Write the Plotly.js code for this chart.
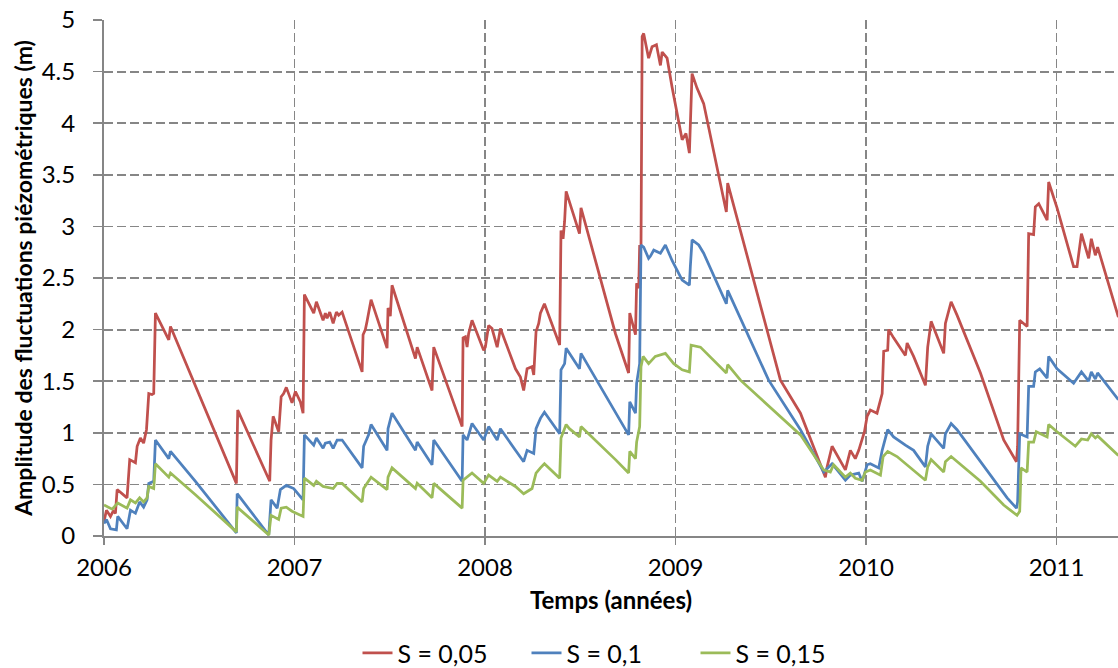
<!DOCTYPE html>
<html>
<head>
<meta charset="utf-8">
<script src="https://cdn.plot.ly/plotly-3.0.1.min.js"></script>
<style>html,body{margin:0;padding:0;background:#fff;}#chart{width:1118px;height:668px;}</style>
</head>
<body>
<div id="chart"></div>
<script>
// Decimal years and amplitudes (m)
const yearsS005 = [2006.000,2006.013,2006.034,2006.048,2006.060,2006.069,2006.121,2006.135,2006.165,2006.174,2006.191,2006.208,2006.223,2006.235,2006.252,2006.261,2006.270,2006.340,2006.349,2006.480,2006.695,2006.702,2006.870,2006.877,2006.888,2006.917,2006.930,2006.943,2006.957,2006.987,2007.005,2007.031,2007.045,2007.052,2007.101,2007.115,2007.150,2007.162,2007.171,2007.185,2007.203,2007.220,2007.232,2007.250,2007.355,2007.360,2007.372,2007.381,2007.389,2007.402,2007.486,2007.491,2007.503,2007.512,2007.635,2007.644,2007.722,2007.731,2007.880,2007.885,2007.897,2007.906,2007.914,2007.932,2007.993,2008.002,2008.019,2008.037,2008.064,2008.081,2008.160,2008.186,2008.203,2008.221,2008.247,2008.256,2008.268,2008.282,2008.291,2008.312,2008.392,2008.399,2008.410,2008.418,2008.426,2008.443,2008.496,2008.504,2008.685,2008.754,2008.760,2008.790,2008.796,2008.807,2008.812,2008.819,2008.825,2008.833,2008.859,2008.877,2008.900,2008.921,2008.930,2008.956,2008.982,2009.035,2009.055,2009.073,2009.078,2009.087,2009.113,2009.148,2009.267,2009.274,2009.551,2009.656,2009.787,2009.796,2009.822,2009.892,2009.918,2009.944,2009.962,2009.992,2010.006,2010.023,2010.058,2010.085,2010.093,2010.114,2010.119,2010.145,2010.207,2010.216,2010.250,2010.312,2010.324,2010.342,2010.408,2010.417,2010.447,2010.478,2010.601,2010.706,2010.723,2010.790,2010.796,2010.807,2010.846,2010.854,2010.880,2010.889,2010.907,2010.951,2010.959,2011.003,2011.090,2011.108,2011.131,2011.169,2011.183,2011.204,2011.216,2011.325];
const ampS005 = [0.14,0.25,0.19,0.24,0.22,0.45,0.37,0.74,0.71,0.87,0.95,0.90,1.03,1.38,1.37,1.38,2.16,1.90,2.03,1.46,0.51,1.22,0.53,0.93,1.16,1.01,1.35,1.38,1.44,1.29,1.40,1.30,1.19,2.34,2.16,2.27,2.09,2.16,2.11,2.17,2.06,2.17,2.14,2.17,1.59,1.95,2.00,2.08,2.17,2.29,1.82,2.21,2.13,2.43,1.72,1.83,1.41,1.83,1.06,1.92,1.93,1.83,1.96,2.09,1.80,1.83,2.04,2.01,1.83,2.01,1.62,1.54,1.41,1.62,1.64,1.56,1.98,2.06,2.16,2.25,1.85,2.96,2.88,3.05,3.34,3.24,2.93,3.18,1.96,1.58,2.16,1.95,2.45,2.40,2.82,2.80,4.84,4.87,4.63,4.74,4.76,4.56,4.69,4.63,4.35,3.84,3.90,3.71,4.03,4.48,4.34,4.19,3.14,3.42,1.51,1.19,0.57,0.67,0.87,0.64,0.83,0.75,0.83,1.01,1.16,1.22,1.19,1.38,1.79,1.80,2.00,1.92,1.75,1.87,1.74,1.46,1.83,2.08,1.77,2.06,2.27,2.14,1.58,1.03,0.93,0.72,0.87,2.09,2.03,2.93,2.92,3.19,3.22,3.06,3.43,3.18,2.61,2.61,2.93,2.69,2.88,2.72,2.80,2.12];

const yearsS01 = [2006.000,2006.013,2006.034,2006.065,2006.072,2006.121,2006.139,2006.165,2006.187,2006.208,2006.226,2006.235,2006.261,2006.270,2006.340,2006.349,2006.480,2006.695,2006.699,2006.865,2006.877,2006.909,2006.926,2006.957,2006.996,2007.031,2007.045,2007.052,2007.101,2007.115,2007.150,2007.162,2007.185,2007.203,2007.224,2007.250,2007.355,2007.363,2007.377,2007.389,2007.402,2007.486,2007.491,2007.512,2007.635,2007.644,2007.722,2007.731,2007.880,2007.885,2007.906,2007.932,2007.993,2008.019,2008.064,2008.081,2008.160,2008.203,2008.221,2008.256,2008.268,2008.291,2008.312,2008.392,2008.399,2008.418,2008.426,2008.443,2008.496,2008.504,2008.685,2008.754,2008.760,2008.790,2008.796,2008.812,2008.819,2008.833,2008.859,2008.868,2008.886,2008.921,2008.947,2008.982,2009.035,2009.073,2009.078,2009.087,2009.122,2009.148,2009.267,2009.274,2009.489,2009.656,2009.778,2009.822,2009.892,2009.918,2009.962,2009.980,2010.006,2010.023,2010.067,2010.085,2010.114,2010.145,2010.207,2010.250,2010.312,2010.324,2010.342,2010.408,2010.417,2010.447,2010.478,2010.601,2010.741,2010.790,2010.796,2010.807,2010.846,2010.854,2010.880,2010.889,2010.912,2010.951,2010.959,2011.003,2011.090,2011.131,2011.169,2011.183,2011.204,2011.216,2011.325];
const ampS01 = [0.12,0.16,0.07,0.06,0.19,0.07,0.25,0.22,0.33,0.28,0.35,0.51,0.53,0.93,0.75,0.82,0.53,0.03,0.41,0.01,0.35,0.27,0.45,0.49,0.46,0.38,0.35,0.98,0.88,0.95,0.85,0.90,0.91,0.85,0.93,0.93,0.66,0.87,0.93,0.98,1.08,0.83,1.04,1.19,0.83,0.91,0.69,0.93,0.53,0.98,0.93,1.09,0.93,1.06,0.93,1.04,0.83,0.72,0.83,0.80,1.04,1.14,1.20,0.99,1.61,1.67,1.82,1.77,1.62,1.77,1.19,0.98,1.30,1.19,1.48,1.67,2.82,2.80,2.69,2.71,2.77,2.74,2.82,2.67,2.48,2.43,2.61,2.87,2.82,2.74,2.25,2.38,1.51,1.03,0.62,0.70,0.54,0.59,0.61,0.53,0.69,0.70,0.66,0.83,1.03,0.96,0.88,0.83,0.67,0.87,0.99,0.85,0.99,1.09,1.03,0.72,0.37,0.27,0.33,0.99,0.96,1.45,1.45,1.59,1.62,1.53,1.74,1.62,1.48,1.59,1.50,1.59,1.52,1.58,1.32];

const yearsS015 = [2006.000,2006.043,2006.072,2006.121,2006.139,2006.165,2006.187,2006.208,2006.226,2006.235,2006.261,2006.270,2006.340,2006.349,2006.480,2006.695,2006.699,2006.865,2006.877,2006.917,2006.930,2006.957,2006.987,2007.031,2007.045,2007.052,2007.101,2007.115,2007.150,2007.203,2007.224,2007.250,2007.355,2007.363,2007.389,2007.402,2007.486,2007.491,2007.512,2007.635,2007.644,2007.722,2007.731,2007.880,2007.885,2007.932,2007.993,2008.019,2008.064,2008.081,2008.160,2008.203,2008.247,2008.268,2008.291,2008.312,2008.392,2008.399,2008.426,2008.443,2008.496,2008.504,2008.685,2008.754,2008.760,2008.790,2008.796,2008.812,2008.819,2008.830,2008.859,2008.894,2008.947,2008.991,2009.035,2009.073,2009.082,2009.131,2009.267,2009.274,2009.341,2009.656,2009.778,2009.813,2009.830,2009.892,2009.918,2009.944,2009.980,2009.997,2010.023,2010.076,2010.090,2010.114,2010.163,2010.207,2010.312,2010.324,2010.342,2010.408,2010.417,2010.447,2010.478,2010.601,2010.723,2010.793,2010.807,2010.814,2010.846,2010.854,2010.880,2010.894,2010.951,2010.959,2011.003,2011.099,2011.131,2011.164,2011.183,2011.204,2011.216,2011.325];
const ampS015 = [0.30,0.26,0.32,0.27,0.35,0.32,0.37,0.33,0.37,0.48,0.46,0.70,0.57,0.61,0.40,0.04,0.28,0.01,0.20,0.16,0.27,0.28,0.24,0.20,0.19,0.56,0.49,0.53,0.48,0.46,0.51,0.51,0.33,0.46,0.54,0.57,0.45,0.57,0.66,0.46,0.51,0.37,0.51,0.27,0.54,0.61,0.51,0.59,0.53,0.57,0.48,0.41,0.46,0.61,0.66,0.70,0.56,0.95,1.08,1.04,0.96,1.06,0.74,0.61,0.82,0.75,0.91,1.06,1.64,1.74,1.67,1.74,1.77,1.67,1.61,1.59,1.85,1.83,1.58,1.66,1.51,0.98,0.64,0.62,0.69,0.57,0.61,0.56,0.54,0.62,0.64,0.59,0.77,0.82,0.77,0.70,0.54,0.67,0.74,0.62,0.72,0.77,0.72,0.53,0.30,0.20,0.24,0.66,0.62,0.91,0.91,1.01,0.96,1.08,1.01,0.87,0.94,0.93,0.99,0.95,0.97,0.78];

const seriesNames = ["S = 0,05", "S = 0,1", "S = 0,15"];
const yearTicks = [2006, 2007, 2008, 2009, 2010, 2011];
const yearTickText = ["2006", "2007", "2008", "2009", "2010", "2011"];
const ampTicks = [0, 0.5, 1, 1.5, 2, 2.5, 3, 3.5, 4, 4.5, 5];
const ampTickText = ["0", "0.5", "1", "1.5", "2", "2.5", "3", "3.5", "4", "4.5", "5"];

const FONT = "Lato, 'Open Sans', sans-serif";
const colors = ["#C0504D", "#4F81BD", "#9BBB59"];

const traces = [
  {x: yearsS005, y: ampS005, name: seriesNames[0]},
  {x: yearsS01, y: ampS01, name: seriesNames[1]},
  {x: yearsS015, y: ampS015, name: seriesNames[2]}
].map((t, i) => Object.assign(t, {type: "scatter", mode: "lines", line: {color: colors[i], width: 2.75}, hoverinfo: "skip"}));

const gridCol = "#868686";
const layout = {
  width: 1118, height: 668,
  margin: {l: 104, r: 0, t: 20, b: 132, autoexpand: false},
  paper_bgcolor: "#ffffff", plot_bgcolor: "#ffffff",
  font: {family: FONT, size: 24, color: "#000"},
  showlegend: true,
  legend: {orientation: "h", x: 0.25, xanchor: "left", y: -0.227, yanchor: "middle",
           font: {family: FONT, size: 25, color: "#000"}, entrywidth: 124, entrywidthmode: "pixels", tracegroupgap: 0},
  xaxis: {
    range: [2006, 2011.323], tickmode: "array", tickvals: yearTicks, ticktext: yearTickText,
    showgrid: true, gridcolor: gridCol, gridwidth: 1.8, griddash: "9px,4px",
    showline: true, linecolor: gridCol, linewidth: 2, zeroline: false,
    ticks: "outside", ticklen: 7, tickcolor: gridCol, tickwidth: 1.5,
    ticklabelstandoff: 2,
    tickfont: {family: FONT, size: 24, color: "#000"},
    title: {text: "<b>Temps (années)</b>", font: {family: FONT, size: 24, color: "#000"}, standoff: 12},
    automargin: false, fixedrange: true
  },
  yaxis: {
    range: [0, 5], tickmode: "array", tickvals: ampTicks, ticktext: ampTickText,
    showgrid: true, gridcolor: gridCol, gridwidth: 1.8, griddash: "9px,4px",
    showline: true, linecolor: gridCol, linewidth: 2, zeroline: false,
    ticks: "outside", ticklen: 9, tickcolor: gridCol, tickwidth: 1.5,
    ticklabelstandoff: 13,
    tickfont: {family: FONT, size: 24, color: "#000"},
    title: {text: "<b>Amplitude des fluctuations piézométriques (m)</b>", font: {family: FONT, size: 23, color: "#000"}, standoff: 3},
    automargin: false, fixedrange: true
  }
};

Plotly.newPlot("chart", traces, layout, {displayModeBar: false, staticPlot: true});
</script>
</body>
</html>
